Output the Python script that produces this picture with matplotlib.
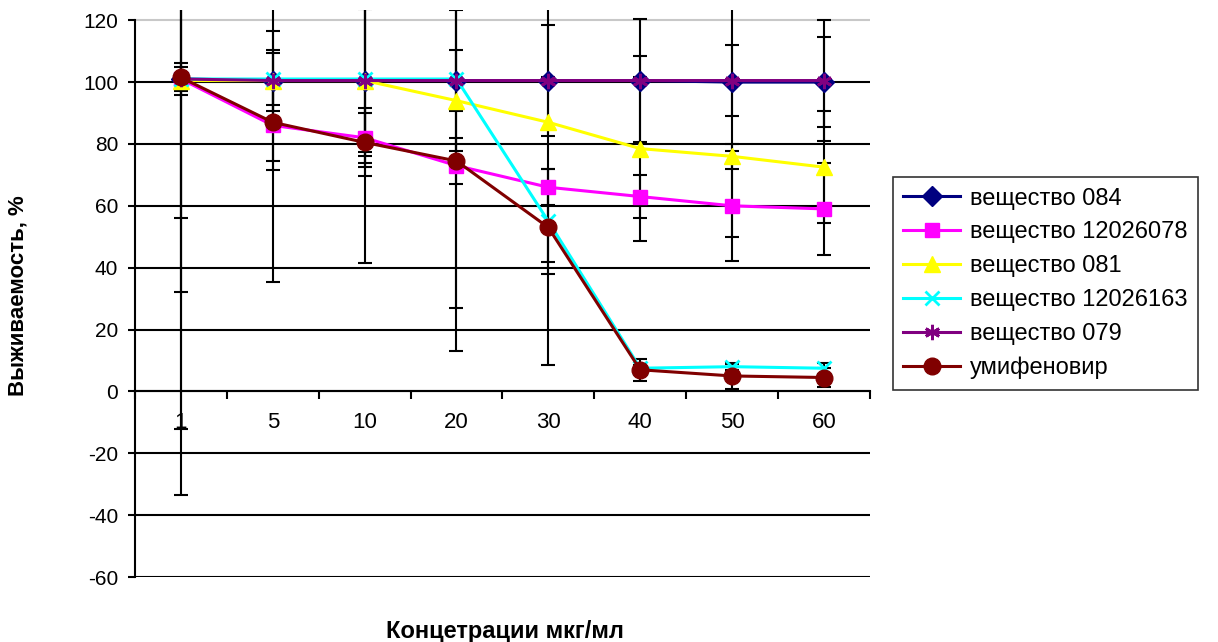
import numpy as np
import matplotlib.pyplot as plt

plt.rcParams['font.family'] = ['Liberation Sans', 'DejaVu Sans']
plt.rcParams['axes.unicode_minus'] = False

# concentrations on the x axis (categories)
concentrations = ['1', '5', '10', '20', '30', '40', '50', '60']

# survival, %
s084 = [101, 100.5, 100.5, 100.5, 100.5, 100.5, 100, 100]
s12026078 = [101, 86, 82, 73, 66, 63, 60, 59]
s081 = [100.5, 100.5, 100.5, 94, 87, 78.5, 76, 72.5]
s12026163 = [101, 101, 101, 101, 55, 7.5, 8, 7.5]
s079 = [101, 100.5, 100.5, 100.5, 100.5, 100.5, 100.5, 100.5]
umifenovir = [101.5, 87, 80.5, 74.5, 53, 7, 5, 4.5]

# error bars (+/-)
err084 = [45, 16, 59, 10, 18, 1, 50, 14.5]
err12026078 = [3.9, 14.5, 8, 1.5, 5.8, 7, 17.7, 15]
err081 = [112.6, 10, 23, 67, 78.6, 30, 4, 18]
err12026163 = [69, 8.5, 25, 88, 17, 1, 1, 1.8]
err079 = [5.3, 65, 28, 22.8, 1, 19.8, 11.5, 19.5]
err_umifenovir = [135, 12.6, 11, 7.5, 11.2, 3.5, 4.1, 3.2]

y_ticks = [-60, -40, -20, 0, 20, 40, 60, 80, 100, 120]

series = [
    ('вещество 084', s084, err084, '#000080', 'D', 10),
    ('вещество 12026078', s12026078, err12026078, '#FF00FF', 's', 10),
    ('вещество 081', s081, err081, '#FFFF00', '^', 12),
    ('вещество 12026163', s12026163, err12026163, '#00FFFF', 'x', 10),
    ('вещество 079', s079, err079, '#800080', (6, 2, 0), 11),
    ('умифеновир', umifenovir, err_umifenovir, '#800000', 'o', 12),
]

fig = plt.figure(figsize=(12.18, 6.42), dpi=100)
ax = fig.add_axes([0.1108, 0.1012, 0.6034, 0.8832])
x = np.arange(len(concentrations))

# horizontal gridlines
for v in y_ticks:
    ax.axhline(v, color='black' if v < 120 else '#c8c8c8', lw=1.5, zorder=1)

for name, vals, errs, color, marker, ms in series:
    ax.errorbar(x, vals, yerr=errs, fmt='none', ecolor='black',
                elinewidth=1.5, capsize=5, capthick=1.5, zorder=2)

for name, vals, errs, color, marker, ms in series:
    mew = 2 if marker in ('x', (6, 2, 0)) else 1
    ax.plot(x, vals, color=color, lw=2.2, marker=marker, ms=ms,
            mfc=color, mec=color, mew=mew, label=name, zorder=3)

ax.set_xlim(-0.5, 7.5)
ax.set_ylim(-60, 123.3)

ax.spines['top'].set_visible(False)
ax.spines['right'].set_visible(False)
ax.spines['left'].set_bounds(-60, 120)
ax.spines['left'].set_linewidth(1.5)
ax.spines['bottom'].set_position(('data', 0))
ax.spines['bottom'].set_linewidth(1.5)

ax.set_yticks(y_ticks)
ax.tick_params(axis='y', length=5, width=1.5, pad=7, labelsize=15)
ax.set_xticks(x, concentrations)
ax.set_xticks(np.arange(-0.5, 8, 1), minor=True)
ax.tick_params(axis='x', which='major', length=0, pad=15, labelsize=16)
ax.tick_params(axis='x', which='minor', length=6, width=1.5, direction='out')

fig.text(0.0148, 0.54, 'Выживаемость, %', rotation=90, ha='center', va='center',
         fontsize=16, fontweight='bold')
fig.text(0.4146, 0.0156, 'Концетрации мкг/мл', ha='center', va='center',
         fontsize=17, fontweight='bold')

leg = fig.legend(loc='upper left', bbox_to_anchor=(0.733, 0.7243), fontsize=17,
                 frameon=True, fancybox=False, edgecolor='black',
                 borderaxespad=0, handlelength=2.4, handletextpad=0.4,
                 labelspacing=0.5, borderpad=0.45)
leg.get_frame().set_linewidth(1.2)

fig.savefig('out.png', dpi=100)
